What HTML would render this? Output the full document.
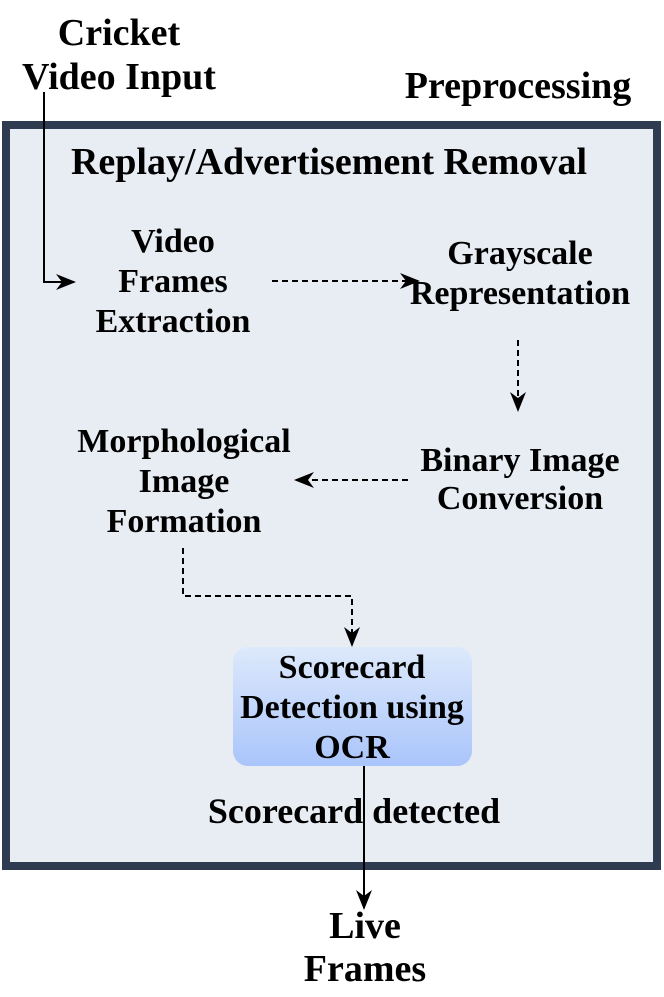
<!DOCTYPE html>
<html><head><meta charset="utf-8"><style>
html,body{margin:0;padding:0;background:#fff;}
</style></head><body>
<svg width="664" height="992" viewBox="0 0 664 992" xmlns="http://www.w3.org/2000/svg" font-family="Liberation Serif, serif" font-weight="bold" font-size="38" text-anchor="middle">
<defs>
<linearGradient id="g" x1="0" y1="0" x2="0" y2="1"><stop offset="0" stop-color="#dde9fb"/><stop offset="1" stop-color="#aac5fb"/></linearGradient>
<marker id="b" markerWidth="20" markerHeight="16" refX="18" refY="8" orient="auto" markerUnits="userSpaceOnUse"><path d="M0,0 L20,8 L0,16 L6,8 Z" fill="#000"/></marker>
</defs>
<rect x="6" y="125" width="651" height="741" fill="#e8edf4" stroke="#2e3b50" stroke-width="8"/>
<g font-size="38">
<text x="119" y="45">Cricket</text>
<text x="119" y="89">Video Input</text>
<text x="518" y="98">Preprocessing</text>
<text x="329" y="174">Replay/Advertisement Removal</text>
</g>
<g font-size="34">
<text x="173" y="252">Video</text>
<text x="173" y="292">Frames</text>
<text x="173" y="332">Extraction</text>
<text x="520" y="264">Grayscale</text>
<text x="520" y="304">Representation</text>
<text x="520" y="471">Binary Image</text>
<text x="520" y="509">Conversion</text>
<text x="184" y="452">Morphological</text>
<text x="184" y="492">Image</text>
<text x="184" y="532">Formation</text>
</g>
<rect x="233" y="647" width="239" height="119" rx="15" fill="url(#g)"/>
<g font-size="34">
<text x="352" y="678">Scorecard</text>
<text x="352" y="718">Detection using</text>
<text x="352" y="758">OCR</text>
</g>
<g font-size="36">
<text x="354" y="823">Scorecard detected</text>
<text x="365" y="938" font-size="38">Live</text>
<text x="365" y="981" font-size="38">Frames</text>
</g>
<path d="M44,92 V282 H74" fill="none" stroke="#000" stroke-width="2" marker-end="url(#b)"/>
<path d="M272,281 H418" fill="none" stroke="#000" stroke-width="2" stroke-dasharray="6,4" marker-end="url(#b)"/>
<path d="M518,340 V410" fill="none" stroke="#000" stroke-width="2" stroke-dasharray="6,4" marker-end="url(#b)"/>
<path d="M408,480 H296" fill="none" stroke="#000" stroke-width="2" stroke-dasharray="6,4" marker-end="url(#b)"/>
<path d="M183,548 V596 H352 V645" fill="none" stroke="#000" stroke-width="2" stroke-dasharray="6,4" marker-end="url(#b)"/>
<path d="M364,766 V908" fill="none" stroke="#000" stroke-width="2" marker-end="url(#b)"/>
</svg>
</body></html>
